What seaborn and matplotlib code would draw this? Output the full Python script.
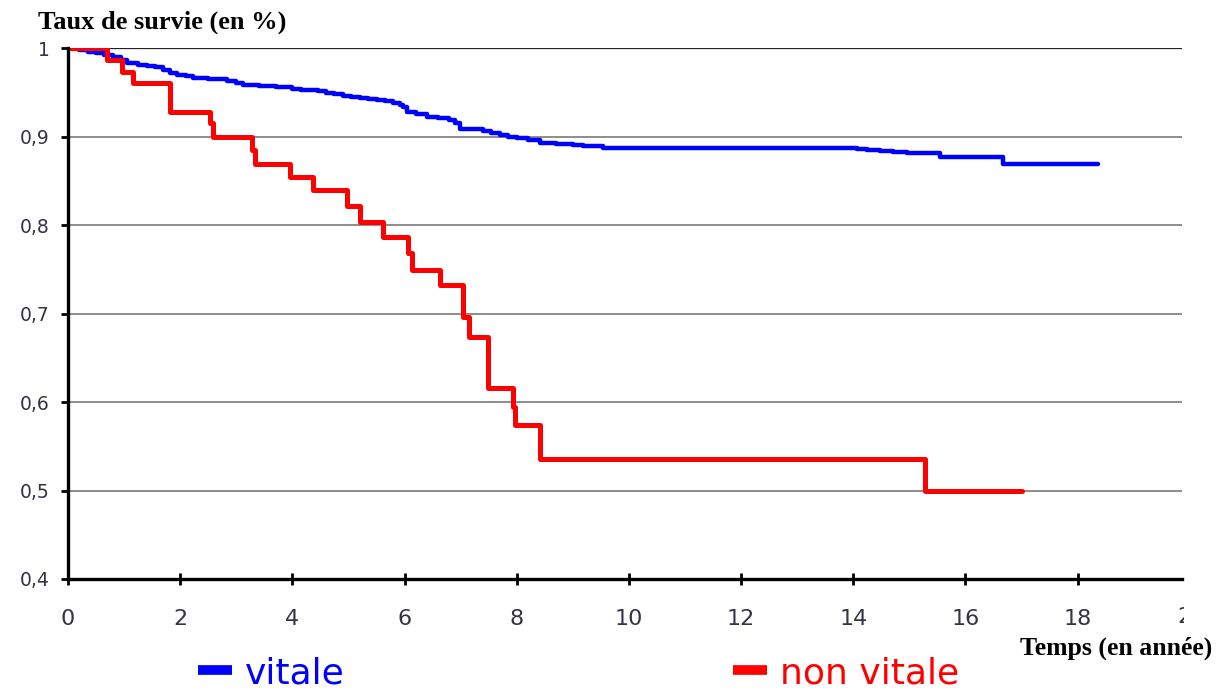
import matplotlib
matplotlib.use("Agg")
import matplotlib.pyplot as plt
import pandas as pd
import seaborn as sns
from matplotlib.lines import Line2D
from matplotlib.transforms import Bbox, TransformedBbox

# Kaplan-Meier survival (time in years, survival fraction)
vitale_t = [0, 0.2, 0.35, 0.5, 0.65, 0.8, 0.95, 1.05, 1.25, 1.4, 1.55, 1.7, 1.82, 1.95,
            2.1, 2.23, 2.5, 2.83, 3.0, 3.12, 3.4, 3.7, 4.0, 4.15, 4.3, 4.45, 4.6, 4.75,
            4.9, 5.05, 5.2, 5.35, 5.5, 5.65, 5.8, 5.92, 5.97, 6.04, 6.2, 6.4, 6.6, 6.8,
            6.9, 6.99, 7.2, 7.4, 7.55, 7.7, 7.85, 8.0, 8.2, 8.41, 8.7, 9.0, 9.18, 9.54,
            14.06, 14.25, 14.47, 14.7, 14.95, 15.54, 16.67, 18.36]
vitale_s = [1.0, 0.998, 0.996, 0.994, 0.992, 0.990, 0.987, 0.983, 0.981, 0.980, 0.978,
            0.975, 0.972, 0.970, 0.968, 0.966, 0.965, 0.963, 0.960, 0.958, 0.957, 0.956,
            0.954, 0.953, 0.952, 0.951, 0.949, 0.948, 0.946, 0.945, 0.943, 0.942, 0.941,
            0.940, 0.938, 0.936, 0.933, 0.928, 0.925, 0.922, 0.921, 0.919, 0.915, 0.909,
            0.908, 0.906, 0.904, 0.902, 0.900, 0.898, 0.896, 0.893, 0.891, 0.890, 0.889,
            0.887, 0.886, 0.885, 0.884, 0.882, 0.881, 0.877, 0.869, 0.869]

non_vitale_t = [0, 0.69, 0.96, 1.16, 1.82, 2.53, 2.58, 3.28, 3.33, 3.96, 4.37, 4.97, 5.2,
                5.61, 6.06, 6.13, 6.63, 7.04, 7.15, 7.49, 7.93, 7.97, 8.41, 15.28, 17.0]
non_vitale_s = [1.0, 0.986, 0.973, 0.96, 0.928, 0.915, 0.899, 0.885, 0.869, 0.854, 0.839,
                0.821, 0.803, 0.787, 0.768, 0.749, 0.732, 0.696, 0.674, 0.616, 0.594, 0.574,
                0.536, 0.50, 0.50]

y_ticks = [0.4, 0.5, 0.6, 0.7, 0.8, 0.9, 1.0]
y_labels = ["0,4", "0,5", "0,6", "0,7", "0,8", "0,9", "1"]
x_ticks = [0, 2, 4, 6, 8, 10, 12, 14, 16, 18]

sns.set_theme(style="white")
plt.rcParams["font.family"] = ["DejaVu Sans"]

df = pd.concat([
    pd.DataFrame({"temps": vitale_t, "survie": vitale_s, "groupe": "vitale"}),
    pd.DataFrame({"temps": non_vitale_t, "survie": non_vitale_s, "groupe": "non vitale"}),
])
colors = {"vitale": "#0000ff", "non vitale": "#ff0000"}

fig = plt.figure(figsize=(12.25, 6.91), dpi=100)
ax = fig.add_axes([68 / 1225, 112 / 691, (1182 - 68) / 1225, (579 - 48) / 691])

for ax_y in y_ticks[1:-1]:
    ax.axhline(ax_y, color="#8c8c8c", lw=1.4, zorder=1)
ax.axhline(1.0, color="#222222", lw=1.6, zorder=1)

sns.lineplot(data=df[df.groupe == "vitale"], x="temps", y="survie", color=colors["vitale"],
             estimator=None, drawstyle="steps-post", lw=3.2, ax=ax, zorder=3)
sns.lineplot(data=df[df.groupe == "non vitale"], x="temps", y="survie", color=colors["non vitale"],
             estimator=None, drawstyle="steps-post", lw=3.6, ax=ax, zorder=4)

ax.set_xlim(0, 19.86)
ax.set_ylim(0.4, 1.0)
ax.set_xticks(x_ticks)
ax.set_yticks(y_ticks)
ax.set_yticklabels(y_labels, fontsize=13.5, color="#333344")
ax.set_xticklabels([str(v) for v in x_ticks], fontsize=16, color="#333344")
ax.set_xlabel("")
ax.set_ylabel("")
for side in ["top", "right"]:
    ax.spines[side].set_visible(False)
for side in ["left", "bottom"]:
    ax.spines[side].set_color("black")
    ax.spines[side].set_linewidth(2.4)
ax.spines["left"].set_zorder(5)
ax.tick_params(axis="y", direction="out", length=5, width=2, color="black", pad=8, left=True)
ax.tick_params(axis="x", direction="inout", length=9, width=2, color="black", pad=17, bottom=True)

# tick label 20 is cut by the right edge in the original
lbl = fig.text(1192 / 1225, 1 - 617 / 691, "20", fontsize=16, color="#333344",
               ha="center", va="center")
lbl.set_clip_on(True)
lbl.set_clip_box(TransformedBbox(Bbox([[0, 0], [1184 / 1225, 1]]), fig.transFigure))

fig.text(38 / 1225, 1 - 22 / 691, "Taux de survie (en %)", fontsize=19, fontweight="bold",
         family=["Liberation Serif", "DejaVu Serif"], ha="left", va="center", color="black")
fig.text(1212 / 1225, 1 - 648 / 691, "Temps (en année)", fontsize=18.5, fontweight="bold",
         family=["Liberation Serif", "DejaVu Serif"], ha="right", va="center", color="black")

for name, x0 in [("vitale", 198), ("non vitale", 733)]:
    fig.legend(handles=[Line2D([], [], color=colors[name], lw=7, solid_capstyle="butt")],
               labels=[name], loc="center left", bbox_to_anchor=(x0 / 1225, 1 - 673 / 691),
               frameon=False, fontsize=26, handlelength=0.95, handletextpad=0.36,
               borderaxespad=0, borderpad=0, labelcolor=colors[name])

fig.savefig("out.png", dpi=100)
